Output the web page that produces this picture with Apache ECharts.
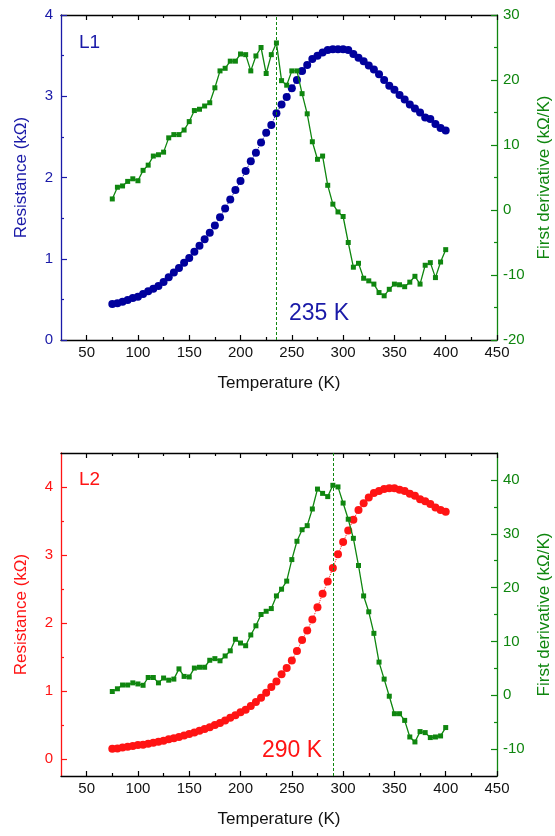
<!DOCTYPE html>
<html>
<head>
<meta charset="utf-8">
<script src="https://cdn.jsdelivr.net/npm/echarts@6/dist/echarts.min.js"></script>
<style>
  html, body { margin: 0; padding: 0; background: #ffffff; }
  #chart { width: 555px; height: 836px; }
</style>
</head>
<body>
<div id="chart"></div>
<script>
// Measurement temperatures (K)
const temperature = [
  75, 80, 85, 90, 95, 100, 105, 110, 115, 120, 125, 130, 135, 140, 145, 150,
  155, 160, 165, 170, 175, 180, 185, 190, 195, 200, 205, 210, 215, 220, 225,
  230, 235, 240, 245, 250, 255, 260, 265, 270, 275, 280, 285, 290, 295, 300,
  305, 310, 315, 320, 325, 330, 335, 340, 345, 350, 355, 360, 365, 370, 375,
  380, 385, 390, 395, 400
];

// Sample L1: resistance (kΩ) and its first derivative (kΩ/K)
const resistanceL1 = [
  0.443, 0.451, 0.472, 0.492, 0.517, 0.533, 0.566, 0.599, 0.632, 0.665, 0.715,
  0.771, 0.830, 0.886, 0.950, 1.010, 1.087, 1.160, 1.240, 1.320, 1.410, 1.510,
  1.620, 1.730, 1.846, 1.957, 2.080, 2.200, 2.305, 2.430, 2.550, 2.646, 2.790,
  2.900, 2.990, 3.100, 3.200, 3.310, 3.385, 3.460, 3.500, 3.540, 3.570, 3.578,
  3.580, 3.578, 3.570, 3.520, 3.475, 3.430, 3.380, 3.330, 3.270, 3.200, 3.130,
  3.080, 3.015, 2.960, 2.900, 2.850, 2.800, 2.740, 2.720, 2.660, 2.610, 2.580
];
const derivativeL1 = [
  1.7, 3.5, 3.7, 4.4, 4.8, 4.5, 6.1, 6.9, 8.3, 8.5, 8.9, 11.1, 11.6, 11.6, 12.3,
  13.6, 15.3, 15.5, 16.0, 16.5, 18.8, 21.4, 21.8, 22.9, 22.9, 24.0, 23.9, 21.4,
  23.7, 25.0, 21.0, 23.9, 25.7, 19.9, 19.2, 21.4, 21.4, 17.9, 14.8, 10.5, 7.8,
  8.3, 3.8, 0.9, -0.3, -1.0, -5.0, -8.8, -8.2, -10.5, -10.9, -11.4, -12.7,
  -13.2, -12.2, -11.4, -11.5, -11.8, -11.1, -10.2, -11.4, -8.5, -8.1, -10.4,
  -8.0, -6.1
];

// Sample L2: resistance (kΩ) and its first derivative (kΩ/K)
const resistanceL2 = [
  0.151, 0.155, 0.170, 0.180, 0.190, 0.205, 0.210, 0.225, 0.240, 0.255, 0.270,
  0.290, 0.305, 0.325, 0.345, 0.366, 0.390, 0.415, 0.440, 0.468, 0.500, 0.530,
  0.565, 0.605, 0.645, 0.688, 0.725, 0.780, 0.840, 0.900, 0.975, 1.060, 1.140,
  1.245, 1.340, 1.450, 1.590, 1.750, 1.890, 2.050, 2.230, 2.430, 2.610, 2.810,
  3.010, 3.190, 3.360, 3.520, 3.660, 3.760, 3.845, 3.910, 3.940, 3.970, 3.980,
  3.980, 3.960, 3.940, 3.900, 3.870, 3.820, 3.790, 3.750, 3.700, 3.660, 3.635
];
const derivativeL2 = [
  0.7, 1.2, 1.9, 1.9, 2.3, 2.1, 1.85, 3.3, 3.3, 2.3, 3.2, 2.8, 3.0, 4.9, 3.5,
  3.4, 5.05, 5.2, 5.2, 6.5, 6.8, 6.4, 7.3, 8.25, 10.4, 9.7, 9.2, 11.2, 12.9,
  15.0, 15.6, 16.1, 18.45, 19.7, 21.2, 25.2, 28.6, 30.75, 31.5, 34.6, 38.3,
  37.5, 36.9, 39.0, 38.7, 35.7, 32.7, 29.15, 24.1, 18.45, 15.5, 11.5, 6.16,
  3.0, -0.18, -3.43, -3.43, -4.67, -7.75, -8.67, -6.75, -6.94, -7.86, -7.75,
  -7.56, -6.0
];

// Transition temperatures (K) marked by dashed lines
const peakL1 = 235;
const peakL2 = 290;

// Tick values
const xMajorTicks = [50, 100, 150, 200, 250, 300, 350, 400, 450];
const xMinorTicks = [75, 125, 175, 225, 275, 325, 375, 425];
const rL1MajorTicks = [0, 1, 2, 3, 4];
const rL1MinorTicks = [0.5, 1.5, 2.5, 3.5];
const dL1MajorTicks = [-20, -10, 0, 10, 20, 30];
const dL1MinorTicks = [-15, -5, 5, 15, 25];
const rL2MajorTicks = [0, 1, 2, 3, 4];
const rL2MinorTicks = [0.5, 1.5, 2.5, 3.5];
const dL2MajorTicks = [-10, 0, 10, 20, 30, 40];
const dL2MinorTicks = [-5, 5, 15, 25, 35];

const FONT = '"Liberation Sans", Arial, sans-serif';
const BLACK = '#000000';
const BLUE = '#1a1aa8';
const BLUE_DOT = '#00009c';
const GREEN = '#0f860f';
const RED = '#ff1414';

const zip = (xs, ys) => xs.map((x, i) => [x, ys[i]]);

// Bottom axis with labels, plus tick-only mirror along the top edge
function xAxesFor(gridIndex) {
  const base = {
    type: 'value', gridIndex, min: 25, max: 450,
    splitLine: { show: false }
  };
  const line = { onZero: false, lineStyle: { color: BLACK, width: 1.3 } };
  return [
    {
      ...base, position: 'bottom',
      name: 'Temperature (K)', nameLocation: 'middle', nameGap: 35,
      nameTextStyle: { color: '#111', fontSize: 17, fontFamily: FONT },
      axisLine: line,
      axisTick: { inside: true, length: 5, customValues: xMajorTicks, lineStyle: { color: BLACK, width: 1.2 } },
      axisLabel: { customValues: xMajorTicks, margin: 5, color: '#111', fontSize: 15, fontFamily: FONT }
    },
    {
      ...base, position: 'bottom',
      axisLine: { show: false, onZero: false },
      axisTick: { inside: true, length: 3, customValues: xMinorTicks, lineStyle: { color: BLACK, width: 1.2 } },
      axisLabel: { show: false }
    },
    {
      ...base, position: 'top',
      axisLine: line,
      axisTick: { inside: true, length: 5, customValues: xMajorTicks, lineStyle: { color: BLACK, width: 1.2 } },
      axisLabel: { show: false }
    },
    {
      ...base, position: 'top',
      axisLine: { show: false, onZero: false },
      axisTick: { inside: true, length: 3, customValues: xMinorTicks, lineStyle: { color: BLACK, width: 1.2 } },
      axisLabel: { show: false }
    }
  ];
}

// A labelled y axis and a tick-only overlay carrying its minor ticks
function yAxesFor(gridIndex, position, min, max, major, minor, color, name, nameGap, margin) {
  const base = {
    type: 'value', gridIndex, position, min, max,
    splitLine: { show: false }
  };
  return [
    {
      ...base,
      name, nameLocation: 'middle', nameGap, nameRotate: 90,
      nameTextStyle: { color, fontSize: 17, fontFamily: FONT },
      axisLine: { show: true, onZero: false, lineStyle: { color, width: 1.3 } },
      axisTick: { inside: true, length: 6, customValues: major, lineStyle: { color, width: 1.2 } },
      axisLabel: { customValues: major, margin, color, fontSize: 15, fontFamily: FONT }
    },
    {
      ...base,
      axisLine: { show: false, onZero: false },
      axisTick: { inside: true, length: 3, customValues: minor, lineStyle: { color, width: 1.2 } },
      axisLabel: { show: false }
    }
  ];
}

const xAxis = [...xAxesFor(0), ...xAxesFor(1)];
const yAxis = [
  ...yAxesFor(0, 'left', 0, 4, rL1MajorTicks, rL1MinorTicks, BLUE, 'Resistance (kΩ)', 31, 8),
  ...yAxesFor(0, 'right', -20, 30, dL1MajorTicks, dL1MinorTicks, GREEN, 'First derivative (kΩ/K)', 38, 6),
  ...yAxesFor(1, 'left', -0.25, 4.5, rL2MajorTicks, rL2MinorTicks, RED, 'Resistance (kΩ)', 31, 8),
  ...yAxesFor(1, 'right', -15, 45, dL2MajorTicks, dL2MinorTicks, GREEN, 'First derivative (kΩ/K)', 38, 6)
];

function resistanceSeries(xIdx, yIdx, values, color) {
  return {
    type: 'line', xAxisIndex: xIdx, yAxisIndex: yIdx,
    data: zip(temperature, values),
    symbol: 'circle', symbolSize: 8,
    itemStyle: { color, borderWidth: 0 },
    lineStyle: { color, width: 1, type: 'dotted' },
    z: 2
  };
}

function derivativeSeries(xIdx, yIdx, values, peak) {
  return {
    type: 'line', xAxisIndex: xIdx, yAxisIndex: yIdx,
    data: zip(temperature, values),
    symbol: 'rect', symbolSize: 5,
    itemStyle: { color: GREEN, borderWidth: 0 },
    lineStyle: { color: GREEN, width: 1.3 },
    z: 3,
    markLine: {
      silent: true, symbol: 'none', animation: false,
      label: { show: false },
      lineStyle: { color: GREEN, width: 1, type: [3, 2] },
      data: [{ xAxis: peak }]
    }
  };
}

const chart = echarts.init(document.getElementById('chart'), null, { renderer: 'canvas' });
chart.setOption({
  animation: false,
  backgroundColor: '#ffffff',
  textStyle: { fontFamily: FONT },
  grid: [
    { left: 61, right: 58, top: 15, height: 325, outerBoundsMode: 'none', containLabel: false },
    { left: 61, right: 58, top: 453, height: 323, outerBoundsMode: 'none', containLabel: false }
  ],
  xAxis,
  yAxis,
  series: [
    resistanceSeries(0, 0, resistanceL1, BLUE_DOT),
    derivativeSeries(0, 2, derivativeL1, peakL1),
    resistanceSeries(4, 4, resistanceL2, RED),
    derivativeSeries(4, 6, derivativeL2, peakL2)
  ],
  graphic: [
    { type: 'text', left: 79, top: 33, style: { text: 'L1', fill: BLUE, font: '19px ' + FONT } },
    { type: 'text', left: 289, top: 302, style: { text: peakL1 + ' K', fill: BLUE, font: '23px ' + FONT } },
    { type: 'text', left: 79, top: 470, style: { text: 'L2', fill: RED, font: '19px ' + FONT } },
    { type: 'text', left: 262, top: 739, style: { text: peakL2 + ' K', fill: RED, font: '23px ' + FONT } }
  ]
});
</script>
</body>
</html>
